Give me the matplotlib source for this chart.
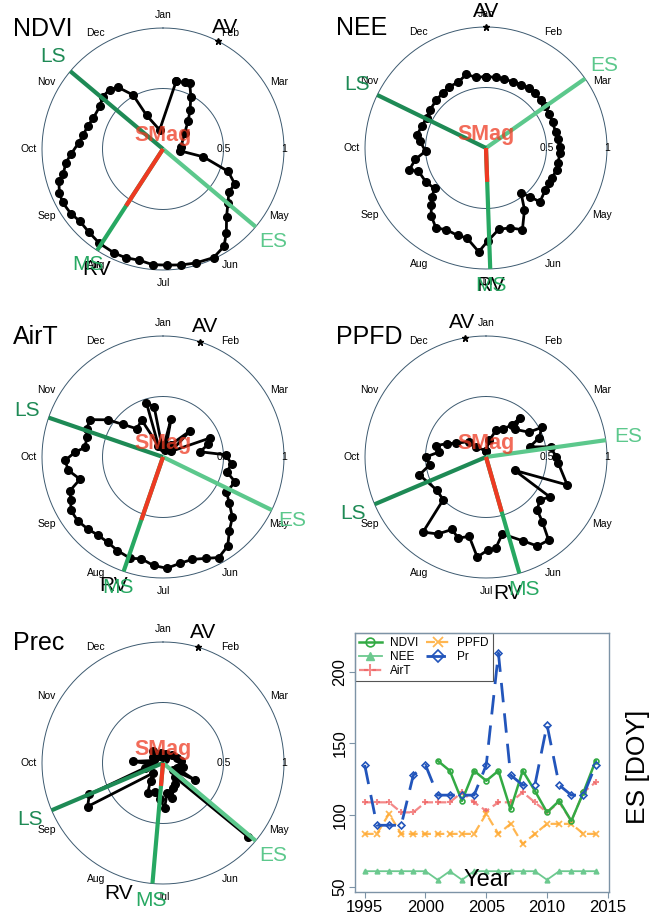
import numpy as np
import matplotlib
matplotlib.use("Agg")
import matplotlib.pyplot as plt

plt.rcParams['font.family'] = ['Liberation Sans', 'DejaVu Sans']

MONTHS = ['Jan', 'Feb', 'Mar', 'Apr', 'May', 'Jun',
          'Jul', 'Aug', 'Sep', 'Oct', 'Nov', 'Dec']

# seasonal trajectories: position in the annual cycle (deg, Jan = 0, clockwise)
# and normalised magnitude
ndvi_ang = [11, 18, 22, 28, 35, 42, 54, 83, 96, 101, 109, 116, 123, 130, 137, 143,
            148, 155, 164, 171, 178, 185, 192, 199, 205, 214, 222, 229, 235, 242,
            247, 253, 256, 262, 267, 274, 280, 287, 294, 304, 311, 318, 324, 331,
            334, 350]
ndvi_r = [0.57, 0.58, 0.59, 0.49, 0.39, 0.31, 0.22, 0.15, 0.14, 0.34, 0.57, 0.66,
          0.65, 0.70, 0.77, 0.87, 0.95, 0.99, 0.98, 0.97, 0.96, 0.96, 0.94, 0.95,
          0.95, 0.94, 0.92, 0.91, 0.93, 0.94, 0.93, 0.90, 0.85, 0.81, 0.76, 0.70,
          0.67, 0.65, 0.63, 0.63, 0.66, 0.66, 0.63, 0.51, 0.31, 0.16]

nee_ang = [0, 8, 15, 22, 29, 36, 42, 49, 55, 62, 69, 77, 83, 89, 94, 102, 107, 114,
           119, 125, 135, 138, 142, 148, 156, 163, 171, 179, 184, 192, 198, 206, 212,
           219, 224, 228, 232, 240, 251, 254, 261, 267, 276, 281, 289, 297, 304, 314,
           322, 329, 337, 345, 352]
nee_r = [0.59, 0.59, 0.59, 0.59, 0.60, 0.61, 0.61, 0.60, 0.60, 0.59, 0.59, 0.59,
         0.60, 0.61, 0.61, 0.61, 0.61, 0.60, 0.60, 0.60, 0.63, 0.54, 0.47, 0.60,
         0.74, 0.69, 0.68, 0.77, 0.86, 0.76, 0.76, 0.75, 0.78, 0.72, 0.65, 0.60,
         0.54, 0.57, 0.59, 0.66, 0.59, 0.50, 0.55, 0.58, 0.56, 0.55, 0.56, 0.57,
         0.58, 0.59, 0.59, 0.63, 0.59]

airt_ang = [5, 12, 20, 32, 46, 55, 68, 74, 82, 88, 96, 103, 109, 119, 125, 131, 138,
            144, 151, 157, 164, 171, 178, 185, 192, 198, 206, 213, 220, 226, 233, 240,
            245, 250, 255, 262, 268, 273, 277, 285, 290, 297, 304, 309, 317, 330, 338,
            343, 350, 355]
airt_r = [0.10, 0.32, 0.06, 0.12, 0.31, 0.08, 0.42, 0.39, 0.31, 0.52, 0.57, 0.54,
          0.63, 0.60, 0.67, 0.76, 0.82, 0.91, 0.95, 0.91, 0.88, 0.89, 0.92, 0.90,
          0.86, 0.88, 0.86, 0.84, 0.84, 0.86, 0.88, 0.88, 0.84, 0.82, 0.71, 0.79,
          0.81, 0.73, 0.65, 0.65, 0.67, 0.68, 0.55, 0.43, 0.32, 0.35, 0.10, 0.47,
          0.42, 0.08]

ppfd_ang = [0, 11, 21, 31, 39, 41, 46, 60, 62, 70, 77, 81, 90, 95, 109, 115, 122,
            129, 136, 139, 143, 150, 156, 168, 174, 179, 185, 192, 199, 205, 212, 220,
            225, 236, 255, 262, 270, 276, 283, 289, 295, 312, 315]
ppfd_r = [0.05, 0.14, 0.24, 0.27, 0.34, 0.43, 0.33, 0.41, 0.52, 0.47, 0.37, 0.54,
          0.58, 0.60, 0.71, 0.26, 0.62, 0.57, 0.61, 0.71, 0.86, 0.85, 0.76, 0.65,
          0.76, 0.77, 0.83, 0.67, 0.71, 0.66, 0.75, 0.81, 0.50, 0.49, 0.57, 0.47,
          0.50, 0.39, 0.42, 0.34, 0.27, 0.19, 0.12]

prec_ang = [0, 15, 30, 50, 70, 85, 100, 110, 118, 125, 131, 140, 150, 158, 165, 172,
            178, 185, 195, 207, 215, 225, 240, 247, 255, 265, 273, 285, 300, 319, 335,
            350]
prec_r = [0.05, 0.08, 0.04, 0.10, 0.12, 0.15, 0.17, 0.12, 0.30, 0.10, 0.93, 0.15,
          0.20, 0.22, 0.30, 0.25, 0.37, 0.30, 0.25, 0.28, 0.18, 0.12, 0.72, 0.66,
          0.15, 0.10, 0.25, 0.08, 0.10, 0.13, 0.06, 0.08]

# phenology metrics per variable (angles in deg)
PANELS = ['NDVI', 'NEE', 'AirT', 'PPFD', 'Prec']
ES_ANG = [130, 55, 116, 82, 130]
LS_ANG = [310, 296, 289, 247, 247]
MS_ANG = [213, 178, 199, 164, 185]
RV_ANG = [209, 178, 201, 171, 199]
AV_ANG = [27, 0, 18, 350, 17]
SMAG = [0.56, 0.28, 0.55, 0.47, 0.19]

TRAJ = {'NDVI': (ndvi_ang, ndvi_r), 'NEE': (nee_ang, nee_r),
        'AirT': (airt_ang, airt_r), 'PPFD': (ppfd_ang, ppfd_r),
        'Prec': (prec_ang, prec_r)}

# yearly start of season (ES, DOY)
years = [1995, 1996, 1997, 1998, 1999, 2000, 2001, 2002, 2003, 2004,
         2005, 2006, 2007, 2008, 2009, 2010, 2011, 2012, 2013, 2014]
nan = np.nan
es_ndvi = [nan, nan, nan, nan, nan, nan, 138, 131, 110, 131,
           124, 131, 104, 131, 117, 102, 110, 96, 116, 138]
es_nee = [61, 61, 61, 61, 61, 61, 55, 61, 55, 61,
          61, 61, 61, 61, 61, 55, 61, 61, 61, 61]
es_airt = [109, 109, 109, 102, 102, 109, 109, 109, 116, 109,
           103, 109, 109, 116, 109, 102, 109, 96, 116, 123]
es_ppfd = [87, 87, 101, 87, 87, 87, 87, 87, 87, 87,
           101, 87, 94, 80, 87, 94, 94, 94, 87, 87]
es_pr = [135, 93, 93, 93, 128, 135, 114, 114, 114, 114,
         135, 213, 128, 121, 121, 163, 121, 114, 114, 135]

W, H = 658, 915
fig = plt.figure(figsize=(W / 100, H / 100), dpi=100)

CENTERS = [(163, 149), (486, 148), (163, 457), (486, 457), (163, 763)]
R_PX = 121

c_es, c_ls, c_ms = '#5cc88c', '#1e8a55', '#27a862'
c_red = '#ee3a22'
c_circ = '#3d5a70'


def rad(a):
    return np.deg2rad(np.asarray(a, dtype=float))


for i, name in enumerate(PANELS):
    cx, cy = CENTERS[i]
    ax = fig.add_axes([(cx - R_PX) / W, 1 - (cy + R_PX) / H, 2 * R_PX / W, 2 * R_PX / H],
                      projection='polar')
    ax.set_theta_zero_location('N')
    ax.set_theta_direction(-1)
    ax.set_ylim(0, 1)
    ax.set_xticks([])
    ax.set_yticks([])
    ax.grid(False)
    ax.spines['polar'].set_visible(False)
    ax.patch.set_alpha(0)

    full = np.linspace(0, 2 * np.pi, 361)
    for rr in (0.5, 1.0):
        ax.plot(full, np.full_like(full, rr), color=c_circ, lw=0.7, clip_on=False, zorder=1)
    ax.text(np.pi / 2, 0.5, '0.5', ha='center', va='center', fontsize=7.5, zorder=2)
    ax.text(np.pi / 2, 1.0, '1', ha='center', va='center', fontsize=7.5, zorder=2)

    for k, m in enumerate(MONTHS):
        if m == 'Apr':  # hidden behind the "1" label in the original
            continue
        ax.text(rad(k * 30), 1.11, m, ha='center', va='center', fontsize=7.5)

    ang, rv = TRAJ[name]
    a = np.append(rad(ang), rad(ang[0]) + 2 * np.pi)
    r = np.append(rv, rv[0])
    ax.plot(a, r, color='black', lw=2, marker='o', ms=5.5, clip_on=False, zorder=3)

    ax.plot([0, rad(ES_ANG[i])], [0, 1], color=c_es, lw=3, clip_on=False, zorder=4,
            solid_capstyle='butt')
    ax.plot([0, rad(LS_ANG[i])], [0, 1], color=c_ls, lw=3, clip_on=False, zorder=4,
            solid_capstyle='butt')
    ax.plot([0, rad(MS_ANG[i])], [0, 1], color=c_ms, lw=3, clip_on=False, zorder=4,
            solid_capstyle='butt')
    ax.plot([0, rad(MS_ANG[i])], [0, SMAG[i]], color=c_red, lw=3, clip_on=False,
            zorder=5, solid_capstyle='butt')

    ax.text(rad(ES_ANG[i]), 1.19, 'ES', color=c_es, fontsize=15, ha='center', va='center',
            zorder=6)
    ax.text(rad(LS_ANG[i]), 1.19, 'LS', color=c_ls, fontsize=15, ha='center', va='center',
            zorder=6)
    ax.text(rad(RV_ANG[i]), 1.14, 'RV', color='black', fontsize=15, ha='center',
            va='center', zorder=6)
    ax.text(rad(MS_ANG[i]), 1.14, 'MS', color=c_ms, fontsize=15, ha='center', va='center',
            zorder=6)
    ax.plot([rad(AV_ANG[i])], [1.0], marker='*', color='black', ms=5, clip_on=False,
            zorder=6)
    ax.text(rad(AV_ANG[i]), 1.13, 'AV', color='black', fontsize=15, ha='center',
            va='center', zorder=6)
    ax.text(0, 0.11, 'SMag', color=c_red, alpha=0.75, fontsize=15.5, fontweight='bold',
            ha='center', va='center', zorder=7)

    ax.text(-0.12, 0.995, name, transform=ax.transAxes, fontsize=18, ha='left',
            va='center')

# start-of-season time series
ax = fig.add_axes([355 / W, 1 - 892 / H, 254 / W, 259 / H])
frame = '#7d93a6'
ax.plot(years, es_ndvi, color='#33aa44', lw=1.8, marker='o', ms=3.5, mfc='none',
        mew=1.2, label='NDVI', zorder=4)
ax.plot(years, es_nee, color='#6cc98f', lw=1.3, marker='^', ms=3.5, label='NEE', zorder=3)
ax.plot(years, es_airt, color='#f06060', lw=1.6, ls=(0, (4, 2)), marker='+', ms=5,
        mew=1.5, alpha=0.75, label='AirT', zorder=3)
ax.plot(years, es_ppfd, color='#ffaa33', lw=1.6, ls=(0, (4, 2)), marker='x', ms=4,
        mew=1.3, alpha=0.85, label='PPFD', zorder=3)
ax.plot(years, es_pr, color='#2255bb', lw=2, ls=(0, (7, 4)), marker='D', ms=3.5,
        mfc='none', mew=1.2, label='Pr', zorder=5)

ax.set_xlim(1994.2, 2015.1)
ax.set_ylim(46.5, 227)
ax.set_xticks([1995, 2000, 2005, 2010, 2015])
ax.set_yticks([50, 100, 150, 200])
ax.tick_params(axis='both', labelsize=12, length=4, color=frame, pad=1.5)
ax.tick_params(axis='y', labelrotation=90)
for lab in ax.get_yticklabels():
    lab.set_va('center')
for s in ax.spines.values():
    s.set_color(frame)
    s.set_linewidth(1)
ax.text(0.52, 0.045, 'Year', transform=ax.transAxes, fontsize=17, ha='center',
        va='center')
fig.text(638 / W, 1 - 767 / H, 'ES [DOY]', rotation=90, fontsize=19, ha='center',
         va='center')

leg = ax.legend(loc='upper left', ncol=2, fontsize=8.5, borderaxespad=0,
                fancybox=False, edgecolor='#555555', framealpha=1, markerscale=1.8,
                handlelength=1.9, handletextpad=0.7, columnspacing=0.7,
                labelspacing=0.15, borderpad=0.35)
leg.get_frame().set_linewidth(0.8)
leg.set_zorder(2)

fig.savefig('out.png', dpi=100)
